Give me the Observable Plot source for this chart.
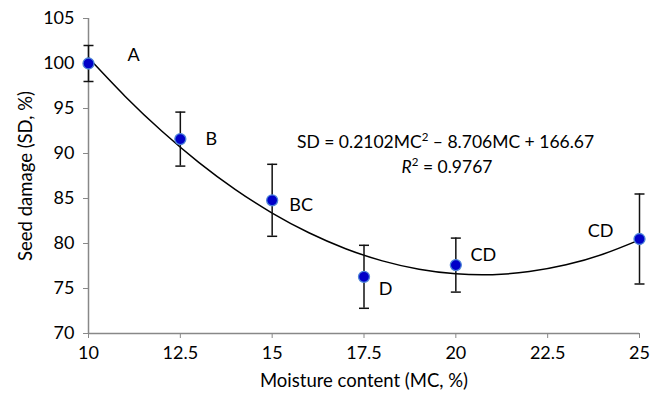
<!DOCTYPE html>
<html>
<head>
<meta charset="utf-8">
<script src="https://cdn.jsdelivr.net/npm/d3@7"></script>
<script src="https://cdn.jsdelivr.net/npm/@observablehq/plot@0.6"></script>
<style>
  html, body { margin: 0; padding: 0; background: #fff; }
  #chart svg { display: block; }
</style>
</head>
<body>
<div id="chart"></div>
<script>
// Observed means and error (±) at each moisture content
const moisture = [10, 12.5, 15, 17.5, 20, 25];
const damage   = [100, 91.6, 84.8, 76.3, 77.6, 80.5];
const errors   = [2.0, 3.0, 4.0, 3.5, 3.0, 5.0];
const letters  = ["A", "B", "BC", "D", "CD", "CD"];
// letter label anchor positions (data units)
const letterX  = [11.23, 13.34, 15.79, 18.09, 20.75, 23.94];
const letterY  = [100.9, 91.6, 84.2, 74.9, 78.7, 81.4];

// Trend curve
const trendX = [10, 11, 12, 13, 14, 15, 16, 17, 18, 19, 20, 21, 22, 23, 24, 25];
const trendY = [100.63, 96.34, 92.47, 89.02, 85.99, 83.38, 81.19, 79.42, 78.07, 77.14, 76.63, 76.54, 76.88, 77.63, 78.80, 80.40];

const xTicks = [10, 12.5, 15, 17.5, 20, 22.5, 25];
const yTicks = [70, 75, 80, 85, 90, 95, 100, 105];

const equation = "SD = 0.2102MC² – 8.706MC + 166.67";
const rSquared = "R² = 0.9767";

const points = moisture.map((x, i) => ({x, y: damage[i], lo: damage[i] - errors[i], hi: damage[i] + errors[i]}));
const trend = trendX.map((x, i) => ({x, y: trendY[i]}));
const labels = letters.map((t, i) => ({x: letterX[i], y: letterY[i], t}));

const capSymbol = {
  draw(context) {
    context.moveTo(-5, 0);
    context.lineTo(5, 0);
  }
};

const font = "Lato, 'Open Sans', sans-serif";

const chart = Plot.plot({
  width: 662,
  height: 399,
  marginLeft: 88,
  marginRight: 23,
  marginTop: 18,
  marginBottom: 66,
  style: {fontFamily: font, fontSize: "18px", color: "#000", background: "#fff"},
  x: {domain: [10, 25]},
  y: {domain: [70, 105]},
  marks: [
    Plot.axisX({ticks: xTicks, tickSize: 5, tickPadding: 8, stroke: "#888", fill: "#000", label: null, tickFormat: d => String(d), fontSize: 18}),
    Plot.axisY({ticks: yTicks, tickSize: 5, tickPadding: 9, stroke: "#888", fill: "#000", label: null, tickFormat: d => String(d), fontSize: 18}),
    Plot.ruleY([70], {stroke: "#888", strokeWidth: 1.5}),
    Plot.ruleX([10], {stroke: "#888", strokeWidth: 1.5}),
    Plot.line(trend, {x: "x", y: "y", curve: "natural", stroke: "#000", strokeWidth: 1.5}),
    Plot.ruleX(points, {x: "x", y1: "lo", y2: "hi", stroke: "#111", strokeWidth: 1.5}),
    Plot.dot(points, {x: "x", y: "lo", symbol: capSymbol, stroke: "#111", strokeWidth: 1.5, r: 5}),
    Plot.dot(points, {x: "x", y: "hi", symbol: capSymbol, stroke: "#111", strokeWidth: 1.5, r: 5}),
    Plot.dot(points, {x: "x", y: "y", r: 5.5, fill: "#0000c8", stroke: "#4f86d8", strokeWidth: 1.3}),
    Plot.text(labels, {x: "x", y: "y", text: "t", fontSize: 18, fill: "#000"}),
    Plot.text([equation], {x: 19.72, y: 91.26, fontSize: 17.5, fill: "#000", className: "eq1"}),
    Plot.text([rSquared], {x: 19.76, y: 88.48, fontSize: 17.5, fill: "#000", className: "eq2"}),
    Plot.text(["Seed damage (SD, %)"], {frameAnchor: "left", textAnchor: "middle", rotate: -90, dx: -62, fontSize: 18.5, fill: "#000"}),
    Plot.text(["Moisture content (MC, %)"], {frameAnchor: "bottom", dy: 53, fontSize: 18.5, fill: "#000"})
  ]
});

// Rich formatting: italic R and raised superscript "2"
const ns = "http://www.w3.org/2000/svg";
function richify(t, italicFirst) {
  const s = t.textContent;
  t.textContent = "";
  const parts = s.split("²");
  parts.forEach((p, i) => {
    if (i > 0) {
      const sup = document.createElementNS(ns, "tspan");
      sup.setAttribute("font-size", "11.5");
      sup.setAttribute("dy", "-7");
      sup.textContent = "2";
      t.appendChild(sup);
    }
    let rest = p;
    if (italicFirst && i === 0) {
      const a = document.createElementNS(ns, "tspan");
      a.setAttribute("font-style", "italic");
      a.textContent = p.slice(0, 1);
      t.appendChild(a);
      rest = p.slice(1);
    }
    const b = document.createElementNS(ns, "tspan");
    if (i > 0) b.setAttribute("dy", "7");
    b.textContent = rest;
    t.appendChild(b);
  });
}
chart.querySelectorAll(".eq1 text").forEach(t => richify(t, false));
chart.querySelectorAll(".eq2 text").forEach(t => richify(t, true));

document.getElementById("chart").appendChild(chart);
</script>
</body>
</html>
